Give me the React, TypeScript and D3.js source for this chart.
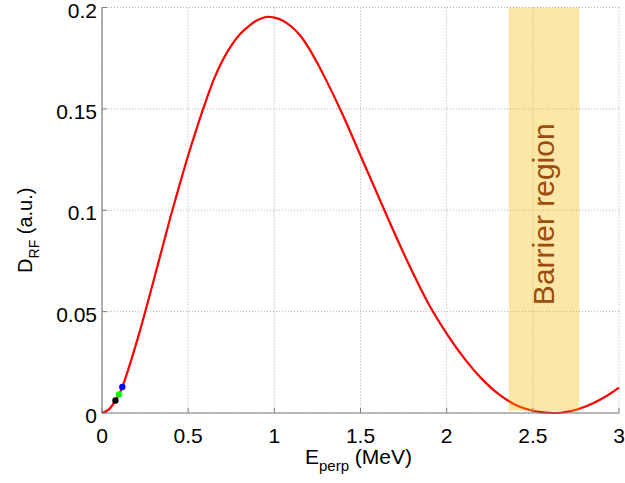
import React from "react";
import * as d3 from "d3";

// Curve samples (E_perp in MeV, D_RF in a.u.)
const curveX = [0, 0.04, 0.078, 0.099, 0.118, 0.17, 0.22, 0.25, 0.3, 0.35, 0.4, 0.45, 0.5, 0.55, 0.6, 0.65, 0.7, 0.75, 0.8, 0.85, 0.9, 0.956, 1.0, 1.05, 1.1, 1.15, 1.2, 1.25, 1.3, 1.4, 1.5, 1.6, 1.7, 1.8, 1.9, 2.0, 2.1, 2.2, 2.3, 2.4, 2.5, 2.62, 2.7, 2.77, 2.85, 2.93, 3.0];
const curveY = [0, 0.0018, 0.0062, 0.0092, 0.0128, 0.0262, 0.0405, 0.0497, 0.0655, 0.0815, 0.0975, 0.1125, 0.127, 0.1405, 0.1532, 0.1648, 0.174, 0.1812, 0.1868, 0.1907, 0.1937, 0.1954, 0.195, 0.1935, 0.1905, 0.1862, 0.18, 0.1725, 0.1643, 0.1465, 0.127, 0.1075, 0.0882, 0.0698, 0.053, 0.0392, 0.0272, 0.0172, 0.0094, 0.004, 0.0011, 0, 0.0006, 0.0021, 0.0048, 0.0085, 0.0125];

// Highlighted points on the curve
const dotX = [0.078, 0.099, 0.118];
const dotY = [0.0062, 0.0092, 0.0128];
const dotColors = ["#000000", "#00ff00", "#0000ff"];

// Barrier region extent (MeV)
const barrier = [2.36, 2.77];
const barrierLabel = "Barrier region";

const xTicks = [0, 0.5, 1, 1.5, 2, 2.5, 3];
const xTickLabels = ["0", "0.5", "1", "1.5", "2", "2.5", "3"];
const yTicks = [0, 0.05, 0.1, 0.15, 0.2];
const yTickLabels = ["0", "0.05", "0.1", "0.15", "0.2"];

const W = 625;
const H = 483;
const left = 102;
const right = 619;
const top = 7.5;
const bottom = 413;
const FONT = "'Liberation Sans', Arial, Helvetica, sans-serif";

export default function App() {
  const x = d3.scaleLinear().domain([0, 3]).range([left, right]);
  const y = d3.scaleLinear().domain([0, 0.2]).range([bottom, top]);
  const pts: [number, number][] = curveX.map((v, i) => [v, curveY[i]]);
  const line = d3
    .line<[number, number]>()
    .x((d) => x(d[0]))
    .y((d) => y(d[1]))
    .curve(d3.curveCatmullRom.alpha(0.5));

  const axisColor = "#7f7f7f";
  const gridColor = "#b0b0b0";
  const bx0 = x(barrier[0]);
  const bx1 = x(barrier[1]);
  const bandMid = (top + bottom) / 2 + 4;

  return (
    <svg
      width={W}
      height={H}
      style={{ position: "absolute", left: 0, top: 0, background: "#fff" }}
      fontFamily={FONT}
    >
      <rect x={0} y={0} width={W} height={H} fill="#fff" />
      {/* grid */}
      {xTicks.map((t) => (
        <line
          key={"gx" + t}
          x1={x(t)}
          x2={x(t)}
          y1={top}
          y2={bottom}
          stroke={gridColor}
          strokeWidth={1}
          strokeDasharray="1,2"
        />
      ))}
      {yTicks.map((t) => (
        <line
          key={"gy" + t}
          x1={left}
          x2={right}
          y1={y(t)}
          y2={y(t)}
          stroke={gridColor}
          strokeWidth={1}
          strokeDasharray="1,2"
        />
      ))}
      {/* curve */}
      <path d={line(pts) || ""} fill="none" stroke="#ff0000" strokeWidth={2.2} />
      {dotX.map((v, i) => (
        <circle key={"d" + i} cx={x(v)} cy={y(dotY[i])} r={3.2} fill={dotColors[i]} />
      ))}
      {/* barrier band */}
      <rect
        x={bx0}
        y={top}
        width={bx1 - bx0}
        height={bottom - 2 - top}
        fill="rgb(249,186,0)"
        fillOpacity={0.35}
      />
      <text
        transform={`translate(${(bx0 + bx1) / 2 + 10},${bandMid}) rotate(-90)`}
        textAnchor="middle"
        fontSize={30}
        fill="#9c4c0c"
      >
        {barrierLabel}
      </text>
      {/* axes */}
      <line x1={left} x2={right} y1={bottom} y2={bottom} stroke={axisColor} strokeWidth={1.2} />
      <line x1={left} x2={left} y1={top} y2={bottom} stroke={axisColor} strokeWidth={1.2} />
      {xTicks.map((t) => (
        <line key={"tx" + t} x1={x(t)} x2={x(t)} y1={bottom} y2={bottom - 5} stroke={axisColor} />
      ))}
      {yTicks.map((t) => (
        <line key={"ty" + t} x1={left} x2={left + 5} y1={y(t)} y2={y(t)} stroke={axisColor} />
      ))}
      {xTicks.map((t, i) => (
        <text key={"lx" + t} x={x(t)} y={443} textAnchor="middle" fontSize={21} fill="#000">
          {xTickLabels[i]}
        </text>
      ))}
      {yTicks.map((t, i) => (
        <text
          key={"ly" + t}
          x={97}
          y={y(t) + 10}
          textAnchor="end"
          fontSize={21}
          fill="#000"
        >
          {yTickLabels[i]}
        </text>
      ))}
      {/* axis titles */}
      <text x={(left + right) / 2 - 2} y={464} textAnchor="middle" fontSize={21} fill="#000">
        E<tspan fontSize={15} dy={7}>perp</tspan>
        <tspan dy={-7}> (MeV)</tspan>
      </text>
      <text
        transform={`translate(32,${(top + bottom) / 2 + 20}) rotate(-90)`}
        textAnchor="middle"
        fontSize={20}
        fill="#000"
      >
        D<tspan fontSize={14} dy={7}>RF</tspan>
        <tspan dy={-7}> (a.u.)</tspan>
      </text>
    </svg>
  );
}
